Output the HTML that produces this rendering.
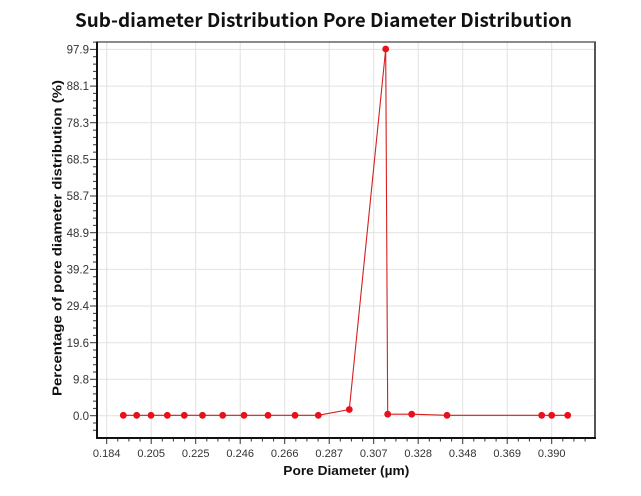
<!DOCTYPE html>
<html>
<head>
<meta charset="utf-8">
<style>
html,body{margin:0;padding:0;background:#fff;}
svg{display:block;}
text{font-family:"Liberation Sans",Arial,sans-serif;}
</style>
</head>
<body>
<svg width="641" height="496" viewBox="0 0 641 496" xmlns="http://www.w3.org/2000/svg">
<rect width="641" height="496" fill="#fff"/>
<!-- Title -->
<text x="323.5" y="27" text-anchor="middle" font-size="19" font-weight="bold" fill="#111" style="font-family:'Noto Sans CJK SC','Liberation Sans',sans-serif" textLength="497" lengthAdjust="spacingAndGlyphs">Sub-diameter Distribution Pore Diameter Distribution</text>

<!-- grid -->
<g stroke="#e2e2e2" stroke-width="1">
  <line x1="97" y1="49.4" x2="595" y2="49.4"/>
  <line x1="97" y1="86.1" x2="595" y2="86.1"/>
  <line x1="97" y1="122.7" x2="595" y2="122.7"/>
  <line x1="97" y1="159.4" x2="595" y2="159.4"/>
  <line x1="97" y1="196.0" x2="595" y2="196.0"/>
  <line x1="97" y1="232.7" x2="595" y2="232.7"/>
  <line x1="97" y1="269.4" x2="595" y2="269.4"/>
  <line x1="97" y1="306.0" x2="595" y2="306.0"/>
  <line x1="97" y1="342.7" x2="595" y2="342.7"/>
  <line x1="97" y1="379.3" x2="595" y2="379.3"/>
  <line x1="97" y1="415.7" x2="595" y2="415.7"/>
  <line x1="106.7" y1="42" x2="106.7" y2="438"/>
  <line x1="151.2" y1="42" x2="151.2" y2="438"/>
  <line x1="195.7" y1="42" x2="195.7" y2="438"/>
  <line x1="240.2" y1="42" x2="240.2" y2="438"/>
  <line x1="284.7" y1="42" x2="284.7" y2="438"/>
  <line x1="329.2" y1="42" x2="329.2" y2="438"/>
  <line x1="373.7" y1="42" x2="373.7" y2="438"/>
  <line x1="418.2" y1="42" x2="418.2" y2="438"/>
  <line x1="462.7" y1="42" x2="462.7" y2="438"/>
  <line x1="507.2" y1="42" x2="507.2" y2="438"/>
  <line x1="551.7" y1="42" x2="551.7" y2="438"/>
</g>

<!-- frame top/right -->
<line x1="97" y1="42" x2="596" y2="42" stroke="#444" stroke-width="1.2"/>
<line x1="595" y1="42" x2="595" y2="438" stroke="#555" stroke-width="2"/>

<g stroke="#333" stroke-width="1">
<!-- major y ticks -->
<line x1="90" y1="49.4" x2="97" y2="49.4"/>
<line x1="90" y1="86.1" x2="97" y2="86.1"/>
<line x1="90" y1="122.7" x2="97" y2="122.7"/>
<line x1="90" y1="159.4" x2="97" y2="159.4"/>
<line x1="90" y1="196.0" x2="97" y2="196.0"/>
<line x1="90" y1="232.7" x2="97" y2="232.7"/>
<line x1="90" y1="269.4" x2="97" y2="269.4"/>
<line x1="90" y1="306.0" x2="97" y2="306.0"/>
<line x1="90" y1="342.7" x2="97" y2="342.7"/>
<line x1="90" y1="379.3" x2="97" y2="379.3"/>
<line x1="90" y1="415.7" x2="97" y2="415.7"/>
<!-- minor y ticks -->
<path d="M93 42.1H97M93 56.7H97M93 64.1H97M93 71.4H97M93 78.7H97M93 93.4H97M93 100.7H97M93 108.1H97M93 115.4H97M93 130.1H97M93 137.4H97M93 144.7H97M93 152.1H97M93 166.7H97M93 174.1H97M93 181.4H97M93 188.7H97M93 203.4H97M93 210.7H97M93 218.1H97M93 225.4H97M93 240.0H97M93 247.4H97M93 254.7H97M93 262.0H97M93 276.7H97M93 284.0H97M93 291.4H97M93 298.7H97M93 313.4H97M93 320.7H97M93 328.0H97M93 335.4H97M93 350.0H97M93 357.4H97M93 364.7H97M93 372.0H97M93 386.6H97M93 393.9H97M93 401.1H97M93 408.4H97M93 423.0H97M93 430.3H97"/>
<!-- major x ticks -->
<path d="M106.7 438V444M151.2 438V444M195.7 438V444M240.2 438V444M284.7 438V444M329.2 438V444M373.7 438V444M418.2 438V444M462.7 438V444M507.2 438V444M551.7 438V444"/>
<!-- minor x ticks -->
<path d="M117.8 438V441.5M128.9 438V441.5M140.1 438V441.5M162.3 438V441.5M173.4 438V441.5M184.6 438V441.5M206.8 438V441.5M217.9 438V441.5M229.1 438V441.5M251.3 438V441.5M262.4 438V441.5M273.6 438V441.5M295.8 438V441.5M306.9 438V441.5M318.1 438V441.5M340.3 438V441.5M351.4 438V441.5M362.6 438V441.5M384.8 438V441.5M395.9 438V441.5M407.1 438V441.5M429.3 438V441.5M440.4 438V441.5M451.6 438V441.5M473.8 438V441.5M484.9 438V441.5M496.1 438V441.5M518.3 438V441.5M529.4 438V441.5M540.6 438V441.5M562.8 438V441.5M573.9 438V441.5M585.1 438V441.5"/>
</g>

<!-- axes -->
<line x1="97" y1="41.5" x2="97" y2="439" stroke="#111" stroke-width="2"/>
<line x1="96" y1="438" x2="596" y2="438" stroke="#111" stroke-width="2"/>

<!-- y tick labels -->
<g font-size="11.5" fill="#333" text-anchor="end">
<text x="89" y="53.5">97.9</text>
<text x="89" y="90.2">88.1</text>
<text x="89" y="126.8">78.3</text>
<text x="89" y="163.5">68.5</text>
<text x="89" y="200.1">58.7</text>
<text x="89" y="236.8">48.9</text>
<text x="89" y="273.5">39.2</text>
<text x="89" y="310.1">29.4</text>
<text x="89" y="346.8">19.6</text>
<text x="89" y="383.4">9.8</text>
<text x="89" y="419.8">0.0</text>
</g>
<!-- x tick labels -->
<g font-size="11" fill="#333" text-anchor="middle">
<text x="106.7" y="457">0.184</text>
<text x="151.2" y="457">0.205</text>
<text x="195.7" y="457">0.225</text>
<text x="240.2" y="457">0.246</text>
<text x="284.7" y="457">0.266</text>
<text x="329.2" y="457">0.287</text>
<text x="373.7" y="457">0.307</text>
<text x="418.2" y="457">0.328</text>
<text x="462.7" y="457">0.348</text>
<text x="507.2" y="457">0.369</text>
<text x="551.7" y="457">0.390</text>
</g>

<!-- axis titles -->
<text x="346.3" y="475" text-anchor="middle" font-size="13" font-weight="bold" fill="#111" textLength="126" lengthAdjust="spacingAndGlyphs">Pore Diameter (µm)</text>
<text transform="translate(61.5,238) rotate(-90)" x="0" y="0" text-anchor="middle" font-size="13" font-weight="bold" fill="#111" textLength="316" lengthAdjust="spacingAndGlyphs">Percentage of pore diameter distribution (%)</text>

<!-- series -->
<polyline fill="none" stroke="#d42020" stroke-width="1.1" points="123.3,415.3 136.7,415.3 151,415.3 167.3,415.3 184.3,415.3 202.5,415.3 222.7,415.3 244,415.3 268,415.3 295,415.3 318.3,415.3 349.3,409.5 385.7,49 387.7,414.2 411.7,414.2 447,415.3 541.7,415.3 551.7,415.3 567.7,415.3"/>
<g fill="#e8101a">
<circle cx="123.3" cy="415.3" r="3.4"/>
<circle cx="136.7" cy="415.3" r="3.4"/>
<circle cx="151" cy="415.3" r="3.4"/>
<circle cx="167.3" cy="415.3" r="3.4"/>
<circle cx="184.3" cy="415.3" r="3.4"/>
<circle cx="202.5" cy="415.3" r="3.4"/>
<circle cx="222.7" cy="415.3" r="3.4"/>
<circle cx="244" cy="415.3" r="3.4"/>
<circle cx="268" cy="415.3" r="3.4"/>
<circle cx="295" cy="415.3" r="3.4"/>
<circle cx="318.3" cy="415.3" r="3.4"/>
<circle cx="349.3" cy="409.5" r="3.4"/>
<circle cx="385.7" cy="49" r="3.4"/>
<circle cx="387.7" cy="414.2" r="3.4"/>
<circle cx="411.7" cy="414.2" r="3.4"/>
<circle cx="447" cy="415.3" r="3.4"/>
<circle cx="541.7" cy="415.3" r="3.4"/>
<circle cx="551.7" cy="415.3" r="3.4"/>
<circle cx="567.7" cy="415.3" r="3.4"/>
</g>
</svg>
</body>
</html>
